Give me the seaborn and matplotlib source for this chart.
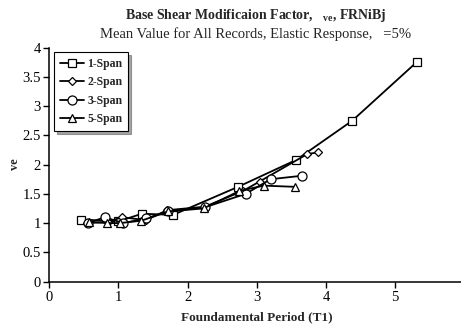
import numpy as np
import pandas as pd
import matplotlib
matplotlib.use("Agg")
import matplotlib.pyplot as plt
import seaborn as sns

# values
span_labels = ["1-Span", "2-Span", "3-Span", "5-Span"]
span_markers = ["s", "D", "o", "^"]
span_msize = [6, 4, 6.5, 5.5]

t_1span = [0.46, 1.00, 1.34, 1.79, 2.73, 3.57, 4.38, 5.32]
r_1span = [1.06, 1.03, 1.16, 1.14, 1.62, 2.08, 2.75, 3.76]

t_2span = [0.55, 0.85, 1.05, 1.40, 1.70, 2.25, 2.80, 3.04, 3.73, 3.89]
r_2span = [1.00, 1.02, 1.10, 1.05, 1.22, 1.28, 1.55, 1.71, 2.18, 2.21]

t_3span = [0.56, 0.80, 1.07, 1.40, 1.72, 2.25, 2.84, 3.20, 3.66]
r_3span = [1.00, 1.10, 1.00, 1.08, 1.20, 1.27, 1.50, 1.75, 1.81]

t_5span = [0.58, 0.83, 1.02, 1.33, 1.72, 2.23, 2.75, 3.10, 3.55]
r_5span = [1.02, 1.00, 1.00, 1.04, 1.20, 1.25, 1.55, 1.64, 1.62]

x_ticks = [0, 1, 2, 3, 4, 5, 6]
y_ticks = [0, 0.5, 1, 1.5, 2, 2.5, 3, 3.5, 4]

sns.set_style("white")
plt.rcParams['font.family'] = ['Liberation Serif', 'DejaVu Serif']
plt.rcParams['mathtext.fontset'] = 'custom'
plt.rcParams['mathtext.rm'] = 'Liberation Serif'
plt.rcParams['mathtext.bf'] = 'Liberation Serif:bold'

frames = []
for lab, t, r in zip(span_labels,
                     [t_1span, t_2span, t_3span, t_5span],
                     [r_1span, r_2span, r_3span, r_5span]):
    frames.append(pd.DataFrame({"T": t, "R": r, "span": lab}))
df = pd.concat(frames, ignore_index=True)

fig = plt.figure(figsize=(4.61, 3.24), dpi=100)
ax = fig.add_axes([0.107, 0.131, 0.9, 0.722])

for lab, mk, ms in zip(span_labels, span_markers, span_msize):
    sns.lineplot(data=df[df["span"] == lab], x="T", y="R", ax=ax, sort=False,
                 color="black", linewidth=1.3, marker=mk, markersize=ms,
                 markerfacecolor="white", markeredgecolor="black",
                 markeredgewidth=0.9, label=lab)

ax.set_xlim(0, 6)
ax.set_ylim(0, 4)
ax.set_xticks(x_ticks)
ax.set_yticks(y_ticks)
ax.set_yticklabels([f"{v:g}" for v in y_ticks])
ax.tick_params(axis="both", direction="out", length=4, width=1,
               labelsize=10.5, colors="black", pad=2)
ax.tick_params(axis="x", pad=3)
ax.tick_params(left=True, bottom=True)
sns.despine(ax=ax)
for s in ["left", "bottom"]:
    ax.spines[s].set_color("black")
    ax.spines[s].set_linewidth(1.1)

ax.set_xlabel("Foundamental Period (T1)", fontsize=9.5, fontweight="bold", labelpad=5)
ax.set_ylabel("ve", fontsize=9, fontweight="bold", labelpad=1)

leg = ax.legend(loc="upper left", bbox_to_anchor=(0.012, 0.982), frameon=True,
                fancybox=False, shadow=True, handlelength=2.0, borderaxespad=0,
                handletextpad=0.3, labelspacing=0.55, borderpad=0.5,
                prop={"weight": "bold", "size": 8.5})
leg.get_frame().set_edgecolor("black")
leg.get_frame().set_linewidth(0.8)

fig.text(0.555, 0.953, r"Base Shear Modificaion Factor,   $_{\mathbf{ve}}$, FRNiBj",
         ha="center", va="center", fontsize=10, fontweight="bold")
fig.text(0.555, 0.896, "Mean Value for All Records, Elastic Response,   =5%",
         ha="center", va="center", fontsize=10.5)

fig.savefig("out.png", dpi=100)
